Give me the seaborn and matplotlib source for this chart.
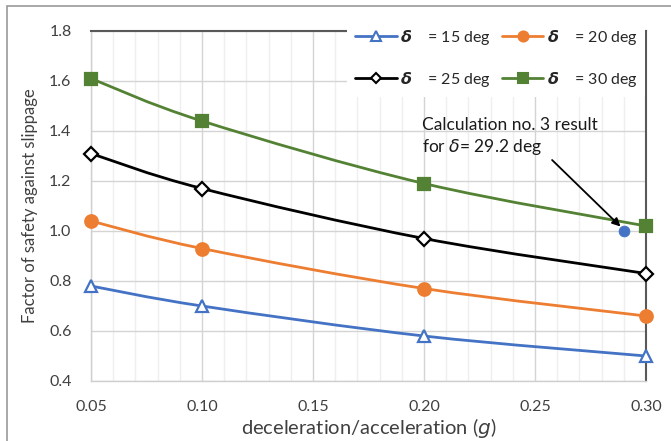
import numpy as np
import pandas as pd
import seaborn as sns
import matplotlib.pyplot as plt
from matplotlib.path import Path
from matplotlib.patches import PathPatch, Rectangle
from matplotlib.lines import Line2D
from matplotlib.ticker import MultipleLocator

# ---- data ----
accel = [0.05, 0.10, 0.20, 0.30]
fs_15 = [0.78, 0.70, 0.58, 0.50]
fs_20 = [1.04, 0.93, 0.77, 0.66]
fs_25 = [1.31, 1.17, 0.97, 0.83]
fs_30 = [1.61, 1.44, 1.19, 1.02]
delta_labels = ["15", "20", "25", "30"]
calc_x = [0.29]
calc_y = [1.00]
x_ticks = [0.05, 0.10, 0.15, 0.20, 0.25, 0.30]
y_ticks = [0.4, 0.6, 0.8, 1.0, 1.2, 1.4, 1.6, 1.8]

sns.set_style("white")
plt.rcParams["font.family"] = ["Lato", "DejaVu Sans"]
plt.rcParams["mathtext.fontset"] = "dejavusans"

fig = plt.figure(figsize=(6.71, 4.41), dpi=100)
ax = fig.add_axes([91/671, 1-381/441, 555/671, 350/441])

styles = [
    dict(color="#4472C4", marker="^", ms=9, mfc="white"),
    dict(color="#ED7D31", marker="o", ms=9, mfc="#ED7D31"),
    dict(color="#000000", marker="D", ms=7, mfc="white"),
    dict(color="#548235", marker="s", ms=8.5, mfc="#548235"),
]
series = [fs_15, fs_20, fs_25, fs_30]


def smooth_path(xs, ys):
    P = np.column_stack([xs, ys]).astype(float)
    n = len(P)
    verts = [P[0]]
    codes = [Path.MOVETO]
    for i in range(n - 1):
        p0 = P[i - 1] if i > 0 else P[i]
        p1 = P[i]
        p2 = P[i + 1]
        p3 = P[i + 2] if i + 2 < n else P[i + 1]
        c1 = p1 + (p2 - p0) / 6.0
        c2 = p2 - (p3 - p1) / 6.0
        verts += [c1, c2, p2]
        codes += [Path.CURVE4] * 3
    return Path(verts, codes)


handles = []
for vals, st, lab in zip(series, styles, delta_labels):
    df = pd.DataFrame({"a": accel, "fs": vals})
    ax.add_patch(PathPatch(smooth_path(df["a"], df["fs"]), fill=False,
                           edgecolor=st["color"], lw=2, zorder=3,
                           capstyle="round", joinstyle="round"))
    sns.lineplot(data=df, x="a", y="fs", ax=ax, linestyle="", marker=st["marker"],
                 markersize=st["ms"], markerfacecolor=st["mfc"],
                 markeredgecolor=st["color"], markeredgewidth=1.6, zorder=4)
    handles.append(Line2D([], [], color=st["color"], lw=2, marker=st["marker"],
                          ms=st["ms"] * 0.8, mfc=st["mfc"], mec=st["color"], mew=1.5,
                          label=r"$\mathbfit{\delta}$    = " + lab + " deg"))

sns.scatterplot(x=calc_x, y=calc_y, ax=ax, s=60, color="#4472C4",
                edgecolor="#4472C4", zorder=5)

for ln in ax.lines:
    ln.set_clip_on(False)
for c in ax.collections:
    c.set_clip_on(False)

ax.set_xlim(0.05, 0.30)
ax.set_ylim(0.4, 1.8)
ax.set_xticks(x_ticks)
ax.set_xticklabels([f"{t:.2f}" for t in x_ticks])
ax.set_yticks(y_ticks)
ax.set_yticklabels([f"{t:.1f}" for t in y_ticks])
ax.xaxis.set_minor_locator(MultipleLocator(0.01))
ax.grid(which="major", color="#d4d4d4", lw=1, zorder=0)
ax.grid(which="minor", axis="x", color="#efefef", lw=1, zorder=0)
ax.tick_params(which="both", length=0, labelsize=11.5, colors="#404040")
ax.tick_params(axis="x", pad=14)
ax.tick_params(axis="y", pad=14)

for s in ["top", "right"]:
    ax.spines[s].set_color("#595959")
    ax.spines[s].set_linewidth(1.5)
for s in ["left", "bottom"]:
    ax.spines[s].set_color("#cfcfcf")
    ax.spines[s].set_linewidth(1)

ax.set_xlabel("deceleration/acceleration ($\\mathit{g}$)", fontsize=14.5, color="#404040", labelpad=1)
ax.set_ylabel("Factor of safety against slippage", fontsize=12, color="#404040", labelpad=8)

leg_handles = [handles[0], handles[2], handles[1], handles[3]]
leg = ax.legend(handles=leg_handles, ncol=2, loc="upper left",
                bbox_to_anchor=(0.447, 1.055), fontsize=11.5, frameon=True,
                handlelength=2.6, handletextpad=0.2, columnspacing=0.7,
                labelspacing=1.45, borderpad=0.5)
leg.get_frame().set_facecolor("white")
leg.get_frame().set_edgecolor("none")
leg.get_frame().set_alpha(1)
leg.set_zorder(6)

ax.text(0.199, 1.295, "Calculation no. 3 result\nfor $\\delta$= 29.2 deg",
        fontsize=12.5, color="#1a1a1a", ha="left", va="bottom",
        linespacing=1.3, zorder=7)
ax.annotate("", xy=(0.2885, 1.018), xytext=(0.2577, 1.284), textcoords="data",
            arrowprops=dict(arrowstyle="-|>", color="black", lw=1.3,
                            shrinkA=0, shrinkB=0, mutation_scale=12),
            zorder=7)

fig.add_artist(Rectangle((7/671, -0.2), 1.2, 1.2 - 6/441,
                         transform=fig.transFigure, fill=False,
                         edgecolor="#9a9a9a", lw=1.2))
fig.savefig("out.png", dpi=100)
